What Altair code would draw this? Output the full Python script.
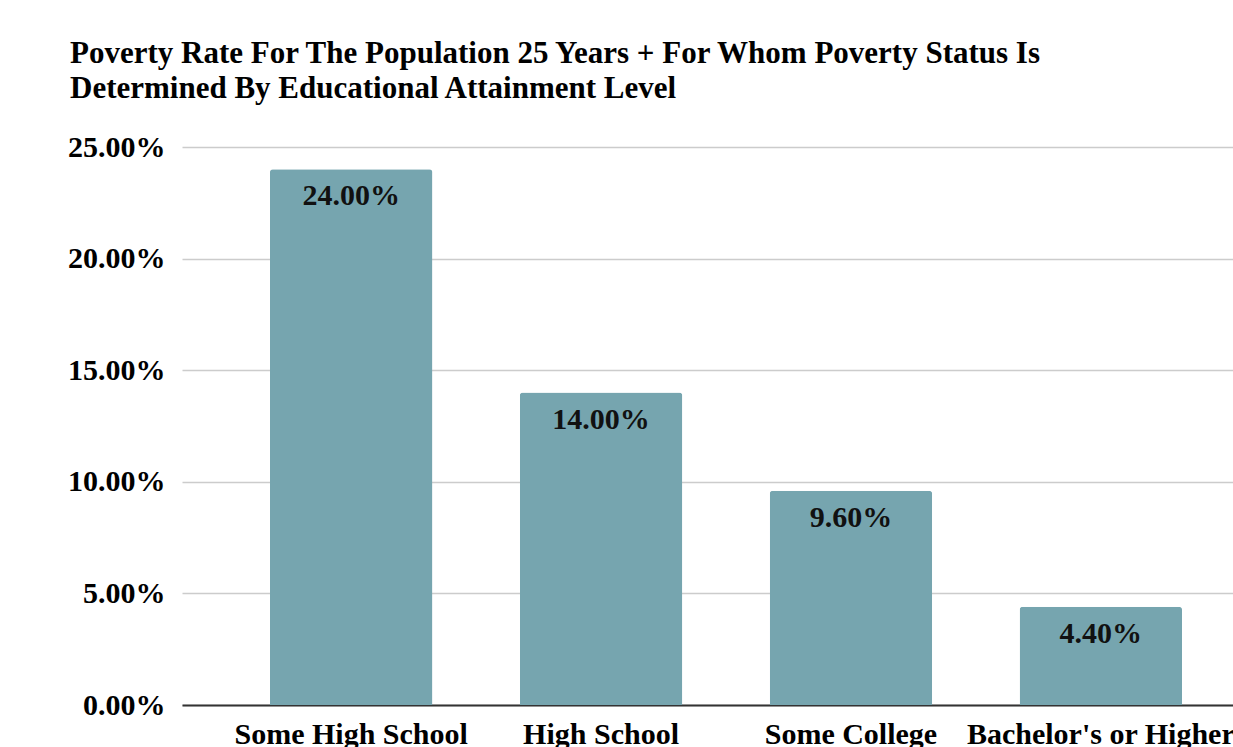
import altair as alt
import pandas as pd

categories = ["Some High School", "High School", "Some College", "Bachelor's or Higher"]
rates = [0.24, 0.14, 0.096, 0.044]
y_ticks = [0.0, 0.05, 0.10, 0.15, 0.20, 0.25]
title_lines = [
    "Poverty Rate For The Population 25 Years + For Whom Poverty Status Is",
    "Determined By Educational Attainment Level",
]

df = pd.DataFrame({"level": categories, "rate": rates})

FONT = "Liberation Serif"
TITLE_FONT = "Times New Roman"
BAR = "#76a5af"

x = alt.X(
    "level:N",
    sort=categories,
    title=None,
    scale=alt.Scale(range=[0, 1088], paddingInner=0.35, paddingOuter=0.352),
    axis=alt.Axis(
        labelAngle=0,
        labelFont=FONT,
        labelFontSize=30,
        labelFontWeight="bold",
        labelColor="#000000",
        labelPadding=14,
        labelLimit=0,
        ticks=False,
        domainColor="#333333",
        domainWidth=2,
        grid=False,
    ),
)

y = alt.Y(
    "rate:Q",
    title=None,
    scale=alt.Scale(domain=[0, 0.25], nice=False),
    axis=alt.Axis(
        values=y_ticks,
        format=".2%",
        labelFont=FONT,
        labelFontSize=30,
        labelFontWeight="bold",
        labelColor="#000000",
        labelPadding=17,
        ticks=False,
        domain=False,
        gridColor="#cccccc",
        gridWidth=1.5,
    ),
)

base = alt.Chart(df)

bars = base.mark_bar(color=BAR, cornerRadiusTopLeft=3, cornerRadiusTopRight=3).encode(x=x, y=y)

labels = base.mark_text(
    font=FONT,
    fontSize=30,
    fontWeight="bold",
    color="#111111",
    baseline="top",
    dy=12,
).encode(x=x, y=y, text=alt.Text("rate:Q", format=".2%"))


def title_line(text, y_px):
    return alt.Chart(pd.DataFrame({"t": [text]})).mark_text(
        font=TITLE_FONT,
        fontSize=31,
        fontWeight="bold",
        fontStyle="normal",
        color="#000000",
        align="left",
        baseline="alphabetic",
    ).encode(text=alt.value(text), x=alt.value(-112), y=alt.value(y_px))


title1 = title_line(title_lines[0], -84)
title2 = title_line(title_lines[1], -49)

chart = (
    alt.layer(bars, labels, title1, title2)
    .properties(
        width=1051,
        height=558,
        autosize=alt.AutoSizeParams(type="none"),
        padding={"left": 182, "top": 147, "right": 0, "bottom": 42},
        background="#ffffff",
    )
    .configure_view(stroke=None)
)

chart.save("out.html", embed_options={"renderer": "svg", "actions": False})
